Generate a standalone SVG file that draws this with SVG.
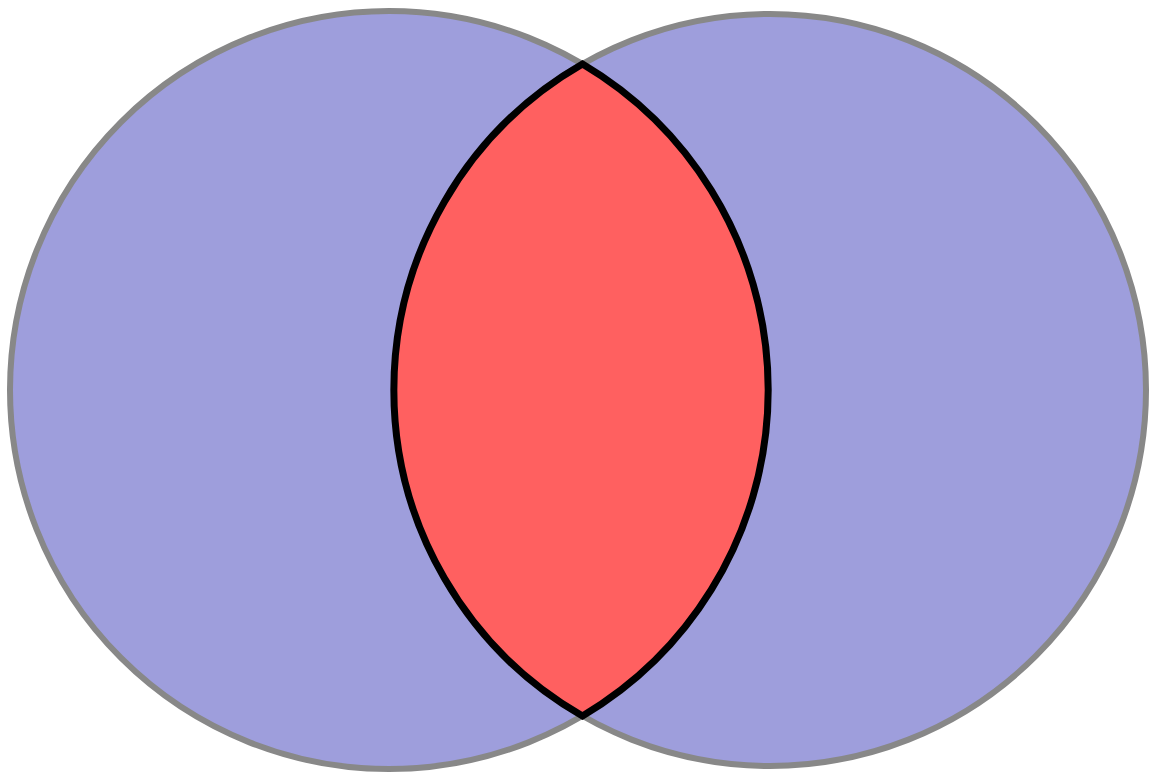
<svg xmlns="http://www.w3.org/2000/svg" width="1156" height="778" viewBox="0 0 1156 778">
<style>
.set{fill:#9e9edc;stroke:#888888;stroke-width:6}
.lens{fill:#ff6060;stroke:#000000;stroke-width:7;stroke-linejoin:miter}
</style>
<rect width="1156" height="778" fill="#ffffff"/>
<g id="setA"><circle class="set" cx="389" cy="390" r="379"/></g>
<g id="setB"><circle class="set" cx="770" cy="390" r="376"/></g>
<g id="intersection"><path class="lens" d="M582.5,64 A379,379 0 0,1 582.5,716 A376,376 0 0,1 582.5,64 Z"/></g>
</svg>
